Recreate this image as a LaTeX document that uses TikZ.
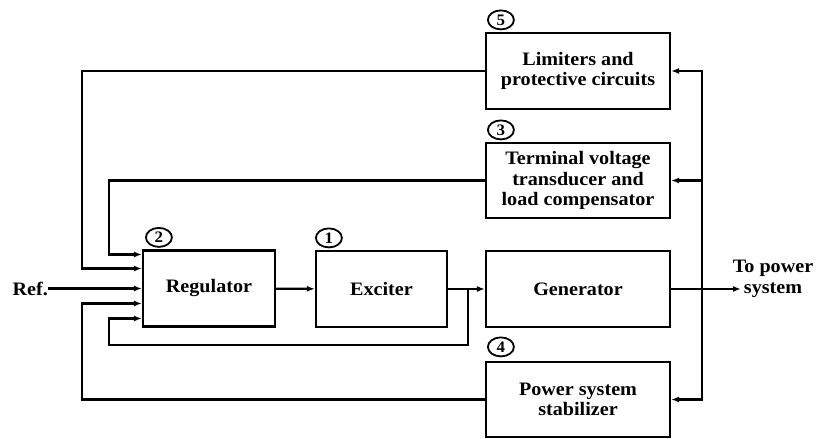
\documentclass[tikz,border=0pt]{standalone}
\usepackage{fontspec}
\setmainfont{Liberation Serif}[FakeStretch=1.06]
\usepackage{tikz}
\usetikzlibrary{arrows.meta,positioning,calc,shapes.geometric}

\begin{document}
\begin{tikzpicture}[
  x=1pt, y=-1pt,
  block/.style={draw, line width=2.2pt, minimum width=#1, minimum height=76pt, align=center, font=\fontsize{19}{20.5}\selectfont\bfseries},
  block/.default=184pt,
  tag/.style={draw, ellipse, line width=1.8pt, minimum width=26pt, minimum height=19pt, inner sep=0pt, font=\fontsize{16}{16}\selectfont\bfseries},
  lbl/.style={align=center, inner sep=0pt, font=\fontsize{19}{20.5}\selectfont\bfseries},
  arrow/.style={-{Latex[length=8pt,width=6pt]}, line width=2.2pt},
]
  \useasboundingbox (0,0) rectangle (817,439);

  % Main blocks
  \node[block=132pt] (reg) at (209,288.5) {Regulator};
  \node[block=131pt] (exc) at (381.5,289) {Exciter};
  \node[block] (gen) at (578,289) {Generator};
  \node[block] (lim) at (578,71) {Limiters and\\protective circuits};
  \node[block, minimum height=75pt] (term) at (578,180.5) {Terminal voltage\\transducer and\\load compensator};
  \node[block, minimum height=75pt] (pss) at (578,399.5) {Power system\\stabilizer};

  % Block numbers
  \node[tag] (n1) at ([xshift=14pt,yshift=12pt]exc.north west) {1};
  \node[tag] (n2) at ([xshift=17pt,yshift=12pt]reg.north west) {2};
  \node[tag] (n3) at ([xshift=16pt,yshift=12pt]term.north west) {3};
  \node[tag] (n4) at ([xshift=16pt,yshift=14pt]pss.north west) {4};
  \node[tag] (n5) at ([xshift=16pt,yshift=12pt]lim.north west) {5};

  % Terminals
  \node[lbl, anchor=east] (ref) at (48,288.5) {Ref.};
  \node[lbl] (out) at (773,279) {To power\\system};
  \coordinate (tip) at (741,289);

  % Regulator inputs and routing columns
  \coordinate (in1) at ($(reg.west)+(0,-34)$);
  \coordinate (in2) at ($(reg.west)+(0,-20)$);
  \coordinate (in4) at ($(reg.west)+(0,15)$);
  \coordinate (in5) at ($(reg.west)+(0,30)$);
  \coordinate (xa) at (82,0);
  \coordinate (xb) at (109,0);
  \coordinate (br) at (468,289);
  \coordinate (bus) at (702,289);

  % Forward path
  \draw[arrow] (ref) -- (reg.west);
  \draw[arrow] (reg) -- (exc);
  \draw[arrow] (exc) -- (gen);
  \draw[arrow] (gen) -- (tip);

  % Feedback paths
  \draw[arrow] (br) -- ++(0,56) -| (in5 -| xb) -- (in5);
  \draw[arrow] (lim.west) -| (in2 -| xa) -- (in2);
  \draw[arrow] (term.west) -| (in1 -| xb) -- (in1);
  \draw[arrow] (pss.west) -| (in4 -| xa) -- (in4);
  \draw[arrow] (bus) |- (lim.east);
  \draw[arrow] (bus) |- (term.east);
  \draw[arrow] (bus) |- (pss.east);
\end{tikzpicture}
\end{document}
